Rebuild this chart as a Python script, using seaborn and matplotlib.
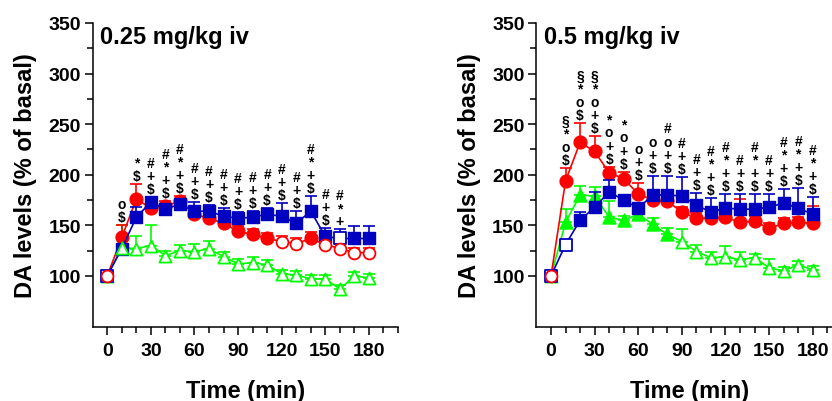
import matplotlib
matplotlib.use('Agg')
import matplotlib.pyplot as plt
import numpy as np
import pandas as pd
import seaborn as sns

# time points (min)
time = [0, 10, 20, 30, 40, 50, 60, 70, 80, 90, 100, 110, 120, 130, 140, 150, 160, 170, 180]

# 0.25 mg/kg iv
red_lo = [100, 138, 176, 167, 169, 174, 161, 157, 152, 144, 141, 137, 134, 132, 137, 131, 127, 123, 123]
red_lo_sem = [0, 12, 15, 5, 5, 5, 5, 5, 5, 5, 5, 5, 5, 5, 6, 5, 5, 5, 5]
red_lo_open = [1, 0, 0, 0, 0, 0, 0, 0, 0, 0, 0, 0, 1, 1, 0, 1, 1, 1, 1]
blue_lo = [100, 127, 158, 173, 166, 171, 164, 164, 159, 157, 158, 161, 159, 152, 164, 139, 137, 137, 137]
blue_lo_sem = [0, 5, 10, 5, 5, 5, 9, 6, 8, 6, 6, 6, 13, 12, 15, 8, 9, 12, 12]
blue_lo_open = [1, 0, 0, 0, 0, 0, 0, 0, 0, 0, 0, 0, 0, 0, 0, 0, 1, 0, 0]
green_lo = [100, 128, 127, 130, 120, 125, 124, 127, 119, 112, 113, 111, 102, 101, 97, 97, 87, 100, 98]
green_lo_sem = [0, 22, 12, 20, 5, 6, 8, 8, 5, 5, 6, 5, 4, 4, 4, 4, 4, 4, 4]
green_lo_open = [1] * 19
sig_lo = ['', '$o', '$*', '$+#', '$+*#', '$+*#', '$+#', '$+#', '$+#', '$+#', '$+#',
          '$+#', '$+#', '$+#', '$+*#', '$+#', '+*#', '', '']

# 0.5 mg/kg iv
red_hi = [100, 194, 232, 223, 202, 196, 181, 175, 174, 163, 157, 157, 158, 153, 154, 147, 152, 153, 152]
red_hi_sem = [0, 13, 19, 15, 6, 7, 11, 5, 5, 5, 5, 5, 5, 23, 5, 5, 5, 5, 17]
red_hi_open = [1] + [0] * 18
blue_hi = [100, 131, 155, 168, 183, 175, 167, 180, 180, 179, 170, 163, 167, 166, 166, 168, 172, 167, 161]
blue_hi_sem = [0, 4, 8, 15, 12, 5, 5, 19, 19, 19, 12, 14, 14, 15, 15, 13, 14, 20, 17]
blue_hi_open = [1, 1] + [0] * 17
green_hi = [100, 153, 180, 179, 158, 155, 161, 151, 141, 134, 124, 118, 119, 116, 118, 108, 105, 111, 106]
green_hi_sem = [0, 13, 9, 9, 16, 4, 5, 6, 6, 12, 7, 6, 11, 8, 4, 9, 4, 4, 4]
green_hi_open = [1, 0, 0, 0, 0, 0, 0, 0, 0, 1, 1, 1, 1, 1, 1, 1, 1, 1, 1]
sig_hi = ['', '$o*§', '$o*§', '$+o*§', '$+o*', '$+o*', '$+o', '$+o', '$+o#', '$+#', '$+#',
          '$+*#', '$+*#', '$+#', '$+*#', '$+#', '$+*#', '$+*#', '$+*#']

RED = '#ff0000'
BLUE = '#0000c0'
GREEN = '#00ff00'

sns.set_style('ticks')
plt.rcParams['font.family'] = ['Liberation Sans', 'DejaVu Sans']
plt.rcParams['text.color'] = 'black'
plt.rcParams['axes.labelcolor'] = 'black'
plt.rcParams['xtick.color'] = 'black'
plt.rcParams['ytick.color'] = 'black'


def draw_series(ax, mean, sem, opn, color, marker, z, open_z, size):
    df = pd.DataFrame({'time': time, 'value': mean})
    sns.lineplot(data=df, x='time', y='value', color=color, lw=1.2, ax=ax,
                 errorbar=None, legend=False, zorder=z)
    ax.errorbar(time, mean, yerr=[np.zeros(len(sem)), sem], fmt='none', ecolor=color,
                elinewidth=1.2, capsize=4.5, capthick=1.2, zorder=z)
    t = np.array(time)
    m = np.array(mean)
    o = np.array(opn, dtype=bool)
    ax.scatter(t[~o], m[~o], s=size, marker=marker, color=color, edgecolors=color,
               linewidths=1, zorder=z + 1)
    # open symbols sit on top of everything
    ax.scatter(t[o], m[o], s=size - 12, marker=marker, facecolors='white', edgecolors=color,
               linewidths=1.3, zorder=open_z)


def draw_panel(ax, title, red, red_sem, red_open, blue, blue_sem, blue_open,
               green, green_sem, green_open, sig):
    draw_series(ax, green, green_sem, green_open, GREEN, '^', 2, 12, 88)
    draw_series(ax, red, red_sem, red_open, RED, 'o', 4, 16, 85)
    draw_series(ax, blue, blue_sem, blue_open, BLUE, 's', 6, 14, 86)

    # significance symbols stacked (one column of text) above the highest error bar
    tops = np.max([np.add(red, red_sem), np.add(blue, blue_sem), np.add(green, green_sem)], axis=0)
    for t, top, s in zip(time, tops, sig):
        if not s:
            continue
        ax.annotate('\n'.join(reversed(s)), (t, top), xytext=(0, 1), textcoords='offset pixels',
                    ha='center', va='bottom', multialignment='center', linespacing=0.92,
                    fontsize=10, fontweight='bold', color='black')

    ax.set_xlim(-10, 200)
    ax.set_ylim(50, 350)
    ax.set_xticks([0, 30, 60, 90, 120, 150, 180])
    ax.set_xticks([10, 20, 40, 50, 70, 80, 100, 110, 130, 140, 160, 170, 190, 200], minor=True)
    ax.set_yticks([100, 150, 200, 250, 300, 350])
    ax.set_yticks([125, 175, 225, 275, 325], minor=True)
    for lab in ax.get_xticklabels() + ax.get_yticklabels():
        lab.set_fontweight('bold')
    ax.tick_params(axis='both', which='major', labelsize=14, width=1.1, length=5.5,
                   color='black', labelcolor='black')
    ax.tick_params(axis='both', which='minor', width=1.1, length=4, color='black')
    ax.tick_params(axis='x', which='major', pad=6)
    ax.tick_params(axis='y', which='major', pad=3)
    ax.spines['left'].set_linewidth(1.1)
    ax.spines['bottom'].set_linewidth(1.1)
    ax.spines['left'].set_color('black')
    ax.spines['bottom'].set_color('black')
    sns.despine(ax=ax)
    ax.set_xlabel('Time (min)', fontsize=17, fontweight='bold', labelpad=14, color='black')
    ax.set_ylabel('DA levels (% of basal)', fontsize=17, fontweight='bold', labelpad=8,
                  color='black')
    ax.text(0.025, 0.957, title, transform=ax.transAxes, fontsize=17, fontweight='bold',
            va='center', ha='left', color='black')


fig = plt.figure(figsize=(8.32, 4.02), dpi=100)
ax1 = fig.add_axes([0.1114, 0.1853, 0.367, 0.755])
ax2 = fig.add_axes([0.6448, 0.1853, 0.367, 0.755])

draw_panel(ax1, '0.25 mg/kg iv', red_lo, red_lo_sem, red_lo_open, blue_lo, blue_lo_sem,
           blue_lo_open, green_lo, green_lo_sem, green_lo_open, sig_lo)
draw_panel(ax2, '0.5 mg/kg iv', red_hi, red_hi_sem, red_hi_open, blue_hi, blue_hi_sem,
           blue_hi_open, green_hi, green_hi_sem, green_hi_open, sig_hi)

fig.savefig('out.png', dpi=100)
